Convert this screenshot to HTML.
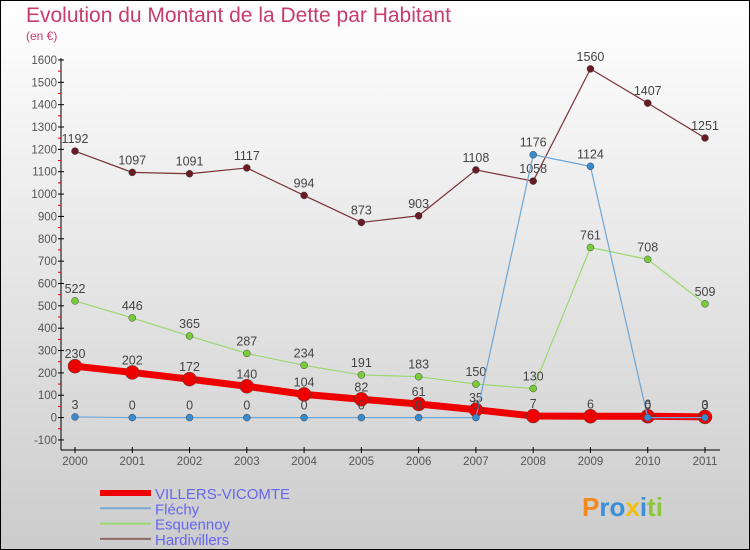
<!DOCTYPE html>
<html><head><meta charset="utf-8"><style>
html,body{margin:0;padding:0}
body{width:750px;height:550px;overflow:hidden;font-family:"Liberation Sans",sans-serif}
svg{display:block}
</style></head><body>
<svg id="chart" width="750" height="550" xmlns="http://www.w3.org/2000/svg">
<defs><linearGradient id="bg" x1="0" y1="0" x2="0" y2="1"><stop offset="0" stop-color="#ffffff"/><stop offset="1" stop-color="#cccccc"/></linearGradient></defs>
<rect x="0.5" y="0.5" width="749" height="549" fill="url(#bg)" stroke="#000"/>
<text x="26" y="22" font-size="21" fill="#c83c6c">Evolution du Montant de la Dette par Habitant</text>
<text x="26" y="40" font-size="12" fill="#c83c6c">(en €)</text>
<g id="axes"></g><g id="series"></g><g id="legend"></g>
<text x="582" y="516" font-size="26" font-weight="bold"><tspan fill="#f08a1c">P</tspan><tspan fill="#3a8fd8">ro</tspan><tspan fill="#f0c010">x</tspan><tspan fill="#3a8fd8">i</tspan><tspan fill="#8cc63c">ti</tspan></text>
</svg>
<script>
const years=["2000","2001","2002","2003","2004","2005","2006","2007","2008","2009","2010","2011"];
const villers=[230,202,172,140,104,82,61,35,7,6,6,3];
const flechy=[3,0,0,0,0,0,0,0,1176,1124,0,0];
const esquennoy=[522,446,365,287,234,191,183,150,130,761,708,509];
const hardivillers=[1192,1097,1091,1117,994,873,903,1108,1058,1560,1407,1251];
const yTicks=[-100,0,100,200,300,400,500,600,700,800,900,1000,1100,1200,1300,1400,1500,1600];
const NS="http://www.w3.org/2000/svg";
const X=i=>75+i*(630/11);
const Y=v=>417.6-v*(380/1700);
function mk(tag,attrs,parent,txt){const e=document.createElementNS(NS,tag);for(const k in attrs)e.setAttribute(k,attrs[k]);if(txt!==undefined)e.textContent=txt;parent.appendChild(e);return e;}
const ax=document.getElementById('axes');
let e=mk('line',{x1:61,y1:58,x2:61,y2:450,stroke:'#000'},ax);


e=mk('line',{x1:61,y1:450,x2:720,y2:450,stroke:'#000'},ax);


yTicks.forEach(t=>{
 mk('line',{x1:58,y1:Y(t),x2:64,y2:Y(t),stroke:'#000'},ax);
 if(t<1600) mk('line',{x1:58,y1:Y(t+50),x2:61,y2:Y(t+50),stroke:'#d00'},ax);
 const l=mk('text',{x:57,y:Y(t)+4,'font-size':11.5,fill:'#555','text-anchor':'end'},ax,String(t));
 
 
});
years.forEach((y,i)=>{
 mk('line',{x1:X(i),y1:447,x2:X(i),y2:453,stroke:'#000'},ax);
 const l=mk('text',{x:X(i),y:465,'font-size':11.5,fill:'#555','text-anchor':'middle'},ax,y);
 
 
});
const sg=document.getElementById('series');
function series(vals,color,w,r,dot,name){
 const g=mk('g',{},sg);
 
 
 const p=mk('polyline',{points:vals.map((v,i)=>X(i)+','+Y(v)).join(' '),fill:'none',stroke:color,'stroke-width':w,'stroke-linejoin':'round'},g);
 
 
 vals.forEach((v,i)=>{
  const c=mk('circle',{cx:X(i),cy:Y(v),r:r,fill:dot,stroke:'#444','stroke-width':0.5},g);
  
  
  const t=mk('text',{x:X(i),y:Y(v)-8,'font-size':12.5,fill:'#444','text-anchor':'middle'},g,String(v));
  
  
 });
}
series(hardivillers,'#7a3038',1.2,3.5,'#6a1a22','hardivillers');
series(esquennoy,'#9ad870',1.2,3.5,'#78cc3a','esquennoy');
series(villers,'#ee0000',7,7,'#ee0000','villers-vicomte');
series(flechy,'#6aa6d8',1.2,3.5,'#3a8ad0','flechy');
const lg=document.getElementById('legend');
[['VILLERS-VICOMTE','#ee0000',6],['Fléchy','#7aaad0',2],['Esquennoy','#9ad870',2],['Hardivillers','#906868',2]].forEach((d,i)=>{
 const y=493+i*15.3;
 const g=mk('g',{},lg);
 
 
 mk('line',{x1:100,y1:y,x2:151,y2:y,stroke:d[1],'stroke-width':d[2]},g);
 mk('text',{x:155,y:y+6,'font-size':15,fill:'#6666ee'},g,d[0]);
});
</script>
</body></html>
